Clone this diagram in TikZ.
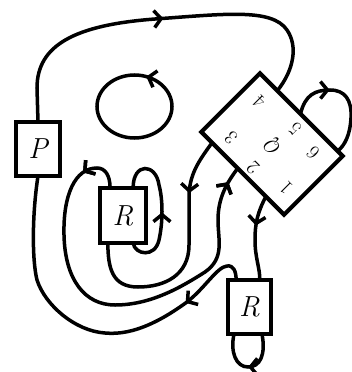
\documentclass[tikz,border=0pt]{standalone}
\usepackage{fontspec}
\usetikzlibrary{calc,decorations.markings,arrows.meta}
\tikzset{
  strand/.style={line width=3.5pt},
  boxnode/.style={draw, line width=4.2pt, fill=white, inner sep=0pt, outer sep=0pt, font=\fontsize{29}{32}\selectfont\itshape},
  numlab/.style={font=\fontsize{20}{24}\selectfont, rotate=135, inner sep=0pt},
  arrowat/.style={postaction={decorate}, decoration={markings, mark=at position #1 with {\arrow{Straight Barb[length=7pt,width=17pt]}}}},
  arrowrevat/.style={postaction={decorate}, decoration={markings, mark=at position #1 with {\arrowreversed{Straight Barb[length=7pt,width=17pt]}}}},
}
\begin{document}
\begin{tikzpicture}[x=1pt,y=-1pt]
\useasboundingbox (0,0) rectangle (351,372);
% boxes
\node[boxnode, minimum width=44pt, minimum height=54pt] (P) at (38,149) {P};
\node[boxnode, minimum width=46pt, minimum height=55pt] (R1) at (123,215.5) {R};
\node[boxnode, minimum width=43pt, minimum height=54pt] (R2) at (249.5,307) {R};
\node[draw, line width=4.2pt, rotate=-45, minimum width=117pt, minimum height=83pt, inner sep=0pt, outer sep=0pt] (D) at (272,144) {};
% labels in the rotated box
\node[numlab] (l4) at (259,102) {4};
\node[numlab] (l5) at (295,129) {5};
\node[numlab] (l6) at (313,153) {6};
\node[numlab] (l3) at (231,138) {3};
\node[numlab] (l2) at (253,168) {2};
\node[numlab] (l1) at (286,188) {1};
\node[numlab] (lq) at (274,147) {\itshape Q};
% attachment points
\coordinate (d4) at ($(D.north west)!0.21!(D.north east)$);
\coordinate (d5) at ($(D.north west)!0.49!(D.north east)$);
\coordinate (d6) at ($(D.north west)!0.94!(D.north east)$);
\coordinate (d3) at ($(D.south west)!0.13!(D.south east)$);
\coordinate (d2) at ($(D.south west)!0.44!(D.south east)$);
\coordinate (d1) at ($(D.south west)!0.78!(D.south east)$);
\coordinate (r1tl) at ($(R1.north west)!0.22!(R1.north east)$);
\coordinate (r1tr) at ($(R1.north west)!0.72!(R1.north east)$);
\coordinate (r1bl) at ($(R1.south west)!0.17!(R1.south east)$);
\coordinate (r1br) at ($(R1.south west)!0.72!(R1.south east)$);
\coordinate (r2tl) at ($(R2.north west)!0.19!(R2.north east)$);
\coordinate (r2tr) at ($(R2.north west)!0.74!(R2.north east)$);
\coordinate (r2bl) at ($(R2.south west)!0.14!(R2.south east)$);
\coordinate (r2br) at ($(R2.south west)!0.79!(R2.south east)$);
% outer loop top
\draw[strand, arrowat=0.5] (P.north) -- (37,88) .. controls (37,45) and (75,25) .. (155,19) .. controls (225,14) and (272,8) .. (287,30) .. controls (298,46) and (294,70) .. (d4);
% outer loop bottom
\draw[strand, arrowat=0.21] (r2tl) .. controls (236,272) and (234,265) .. (227,266) .. controls (217,267) and (205,288) .. (187,302) .. controls (165,318) and (135,336) .. (105,333) .. controls (75,331) and (45,305) .. (37,280) .. controls (32,260) and (32,215) .. (P.south);
% loop on the rotated box
\draw[strand, arrowat=0.35] (d5) .. controls (305,95) and (315,90) .. (330,90) .. controls (345,90) and (352,100) .. (351,118) .. controls (350,135) and (345,145) .. (d6);
% strand 2
\draw[strand, arrowat=0.10, arrowat=0.96] (r1tl) .. controls (110,175) and (105,168) .. (97,168) .. controls (75,168) and (63,195) .. (64,235) .. controls (65,280) and (85,305) .. (115,305) .. controls (150,305) and (180,288) .. (205,272) .. controls (225,258) and (218,240) .. (218,220) .. controls (218,200) and (225,185) .. (d2);
% strand 3
\draw[strand, arrowat=0.23] (d3) .. controls (198,162) and (189,175) .. (189,198) -- (189,245) .. controls (189,275) and (165,287) .. (138,287) .. controls (112,287) and (108,268) .. (r1bl);
% strand 1
\draw[strand, arrowat=0.36] (d1) .. controls (258,212) and (255,222) .. (255,240) .. controls (255,258) and (260,268) .. (r2tr);
% R1 loop
\draw[strand, arrowat=0.46] (r1br) .. controls (135,255) and (155,258) .. (159,240) .. controls (163,222) and (163,200) .. (159,185) .. controls (156,163) and (133,162) .. (r1tr);
% R2 loop
\draw[strand, arrowat=0.5] (r2br) .. controls (266,355) and (260,367) .. (248,367) .. controls (236,367) and (230,352) .. (r2bl);
% free circle
\draw[strand, arrowrevat=0.805] (134.5,106.5) ellipse [x radius=37.5, y radius=31.5];
\end{tikzpicture}
\end{document}
